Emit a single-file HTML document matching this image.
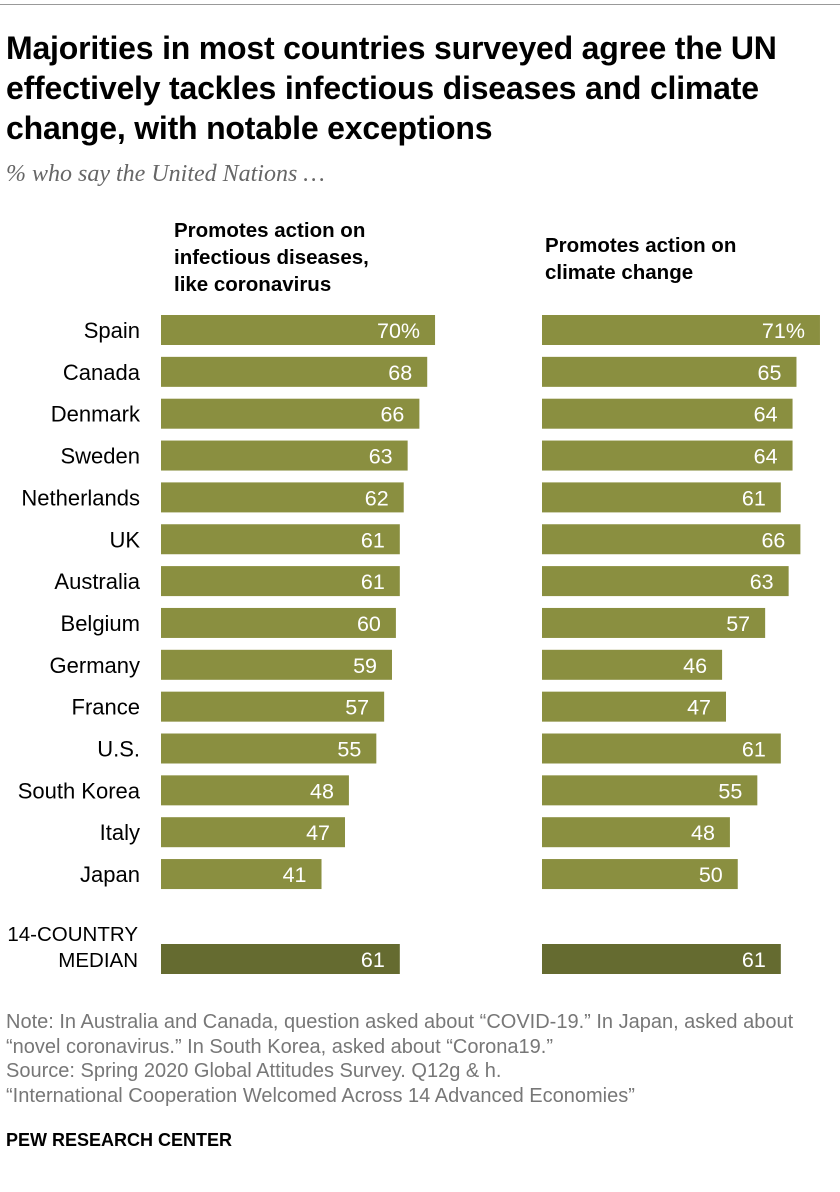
<!DOCTYPE html>
<html><head><meta charset="utf-8"><style>
body{margin:0;background:#fff;width:840px;height:1192px;overflow:hidden;font-family:"Liberation Sans",sans-serif;}
.title{position:absolute;left:6px;top:28px;width:815px;font-size:32px;font-weight:bold;line-height:40px;color:#000;letter-spacing:-0.2px;}
.sub{position:absolute;left:6px;top:161px;font-family:"Liberation Serif",serif;font-style:italic;font-size:24px;color:#666;}
.hdr{position:absolute;font-size:20.5px;font-weight:bold;line-height:27px;color:#000;}
.note{position:absolute;left:6px;top:1010px;font-size:20px;line-height:24.5px;color:#777;white-space:nowrap;}
.pew{position:absolute;left:6px;top:1130px;font-size:18px;font-weight:bold;color:#000;}
</style></head><body>
<div style="position:absolute;left:0;top:4px;width:840px;height:1px;background:#999"></div>
<div class="title">Majorities in most countries surveyed agree the UN effectively tackles infectious diseases and climate change, with notable exceptions</div>
<div class="sub">% who say the United Nations …</div>
<div class="hdr" style="left:174px;top:217px">Promotes action on<br>infectious diseases,<br>like coronavirus</div>
<div class="hdr" style="left:545px;top:232px">Promotes action on<br>climate change</div>
<svg id="chart" width="840" height="1192" style="position:absolute;left:0;top:0"></svg>
<div class="note">Note: In Australia and Canada, question asked about “COVID-19.” In Japan, asked about<br>“novel coronavirus.” In South Korea, asked about “Corona19.”<br>Source: Spring 2020 Global Attitudes Survey. Q12g &amp; h.<br>“International Cooperation Welcomed Across 14 Advanced Economies”</div>
<div class="pew">PEW RESEARCH CENTER</div>
<script>
const countries=["Spain","Canada","Denmark","Sweden","Netherlands","UK","Australia","Belgium","Germany","France","U.S.","South Korea","Italy","Japan"];
const diseases=[70,68,66,63,62,61,61,60,59,57,55,48,47,41];
const climate=[71,65,64,64,61,66,63,57,46,47,61,55,48,50];
const medianDiseases=61;
const medianClimate=61;
const svg=document.getElementById('chart');
const NS='http://www.w3.org/2000/svg';
const scale=3.915;
const x0L=161, x0R=542;
function xL(v){return x0L+v*scale;}
function xR(v){return x0R+v*scale;}
function yRow(i){return 330+i*41.85;}
function el(t,a,txt){const e=document.createElementNS(NS,t);for(const k in a)e.setAttribute(k,a[k]);if(txt!=null)e.textContent=txt;svg.appendChild(e);return e;}
function bar(x0,xf,v,cy,fill,label,name){
  const r=el('rect',{x:x0,y:cy-15,width:xf(v)-x0,height:30,fill:fill});
  
  
  const t=el('text',{x:xf(v)-15,y:cy+8,'text-anchor':'end','font-size':'21.5','fill':'#fff','font-family':'Liberation Sans, sans-serif'},label);
  
  
}
countries.forEach((c,i)=>{
  const cy=yRow(i);
  const t=el('text',{x:140,y:cy+8,'text-anchor':'end','font-size':'22','fill':'#000','font-family':'Liberation Sans, sans-serif'},c);
  
  
  bar(x0L,xL,diseases[i],cy,'#8a8f40',diseases[i]+(i==0?'%':''),'diseases');
  bar(x0R,xR,climate[i],cy,'#8a8f40',climate[i]+(i==0?'%':''),'climate');
});
const my=959;
const m1=el('text',{x:138,y:941,'text-anchor':'end','font-size':'20.5','fill':'#000','font-family':'Liberation Sans, sans-serif'},'14-COUNTRY');


const m2=el('text',{x:138,y:967,'text-anchor':'end','font-size':'20.5','fill':'#000','font-family':'Liberation Sans, sans-serif'},'MEDIAN');


bar(x0L,xL,medianDiseases,my,'#656b30',String(medianDiseases),'median-diseases');
bar(x0R,xR,medianClimate,my,'#656b30',String(medianClimate),'median-climate');
</script>
</body></html>
